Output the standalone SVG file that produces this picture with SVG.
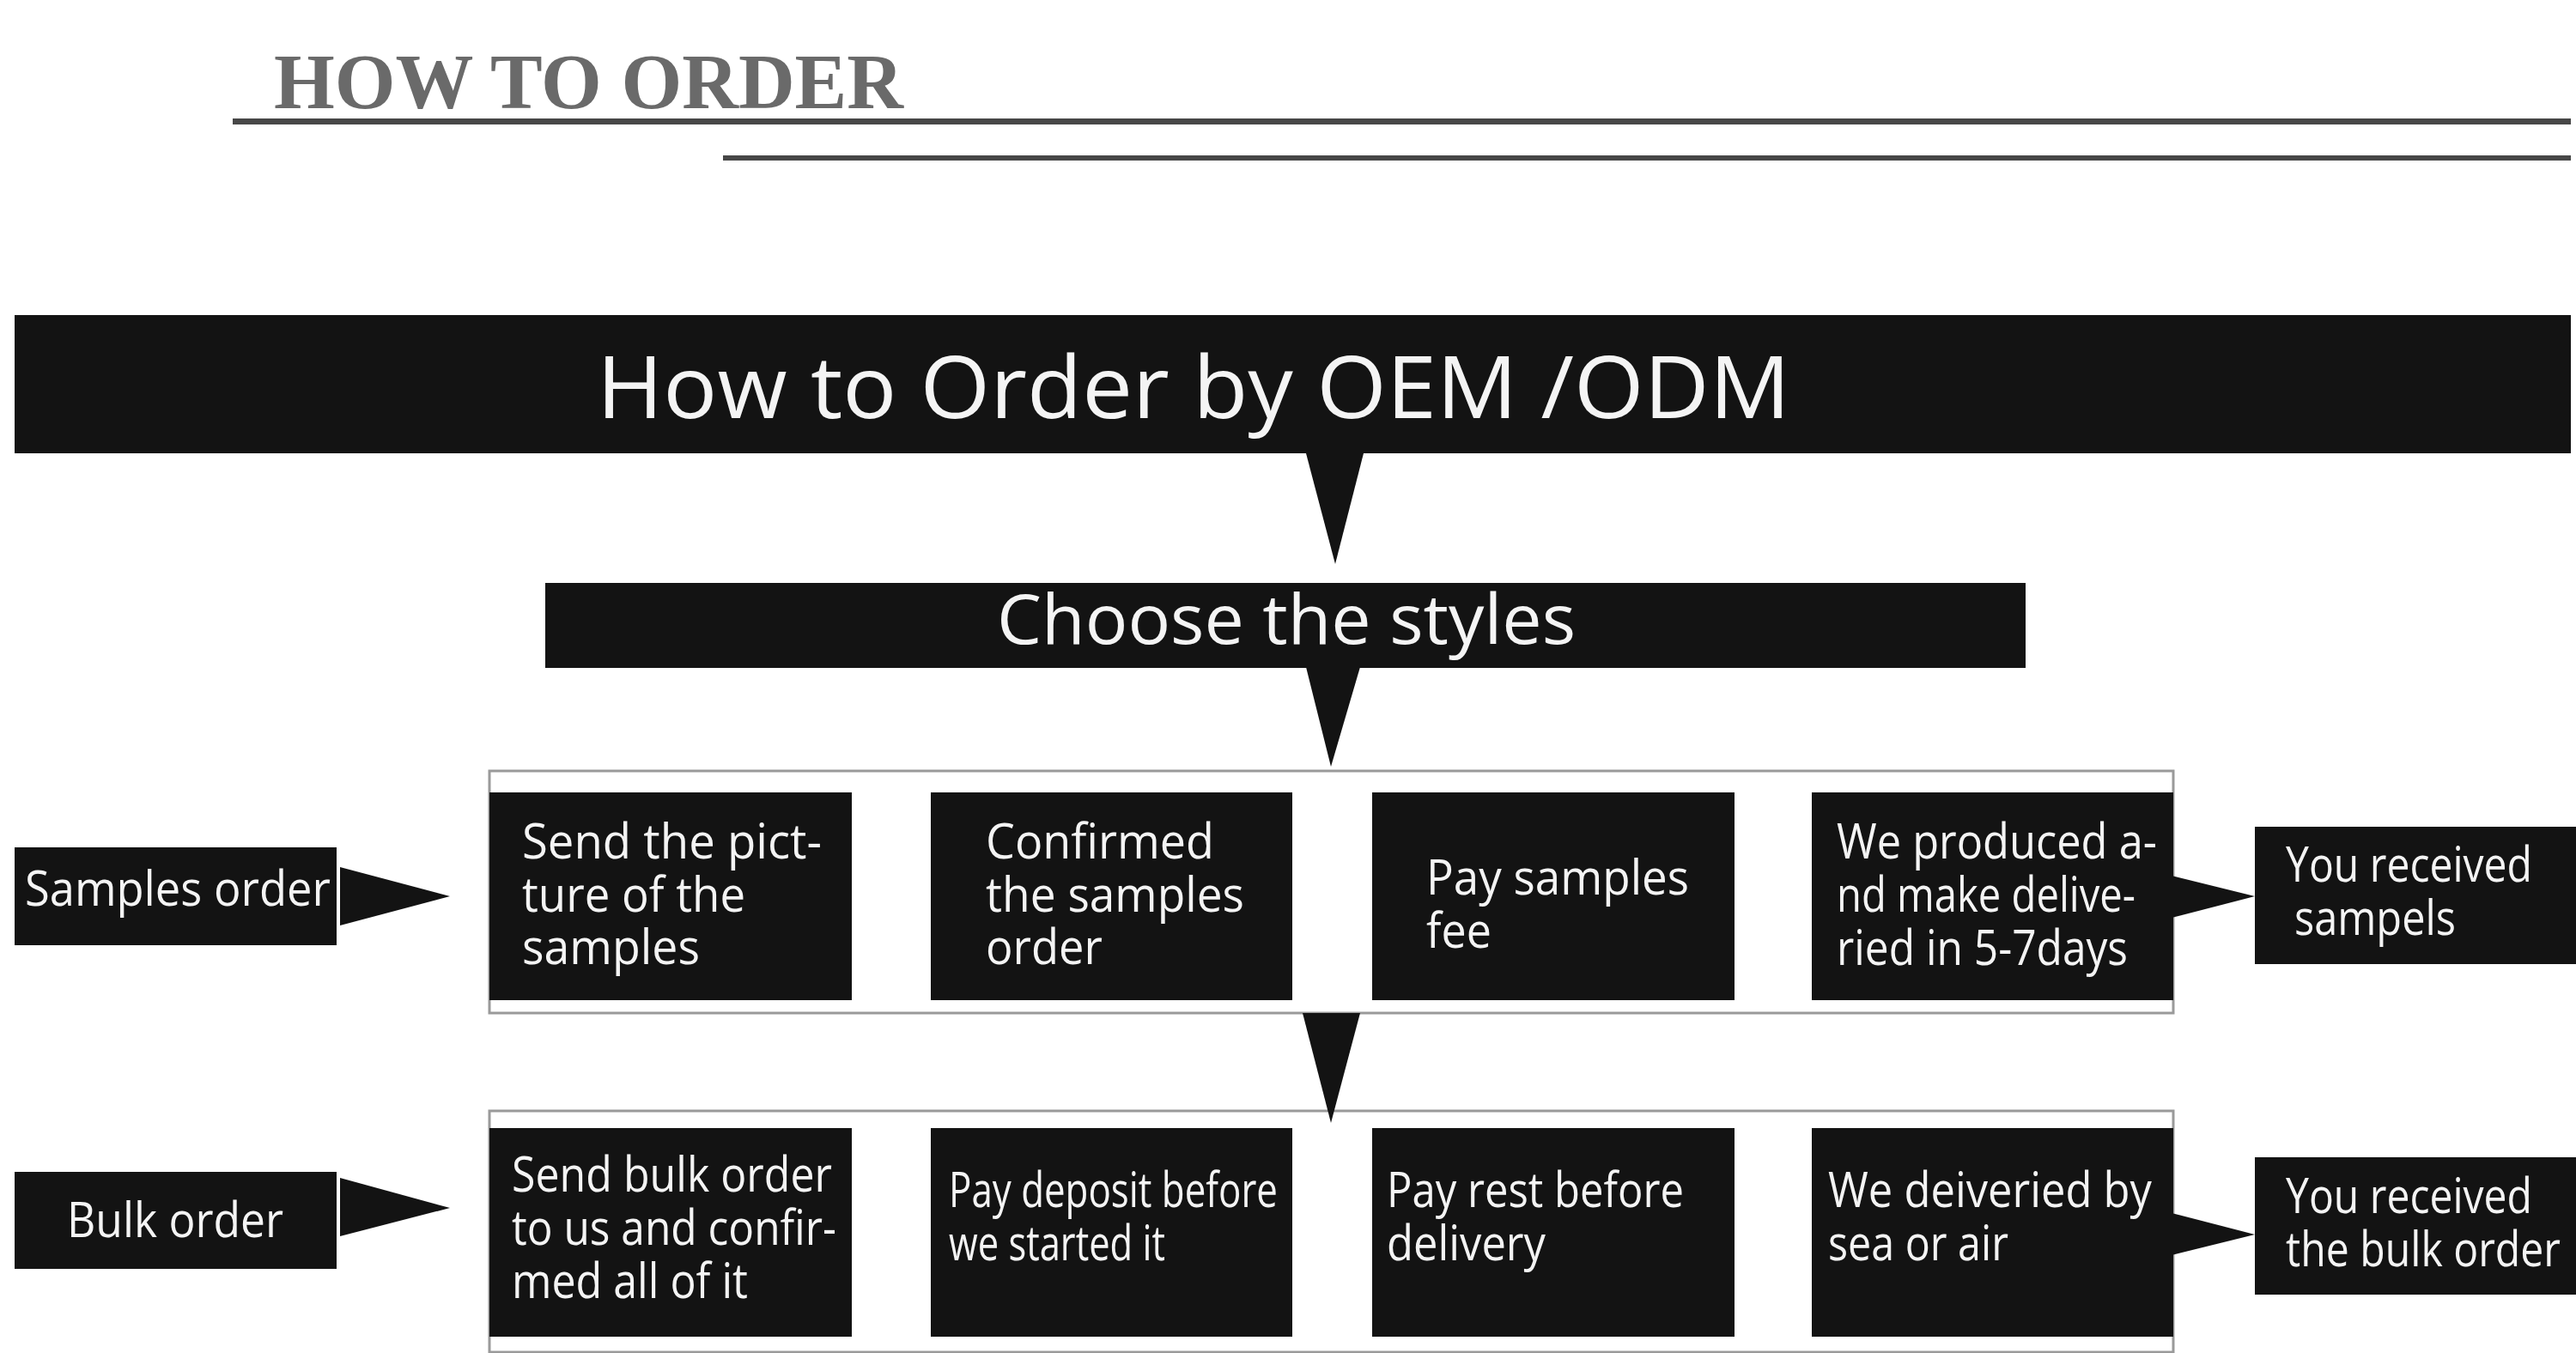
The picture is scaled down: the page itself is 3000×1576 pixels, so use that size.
<svg xmlns="http://www.w3.org/2000/svg" width="3000" height="1576" viewBox="0 0 3000 1576">
<style>
.box{fill:#131313}
.panel{fill:none;stroke:#9a9a9a;stroke-width:3}
.t{font-family:"Open Sans","Noto Sans","DejaVu Sans",sans-serif;fill:#f4f4f4;font-size:57px}
.big{font-size:101px}
.mid{font-size:81px}
.tri{fill:#131313}
.rule{fill:#474747}
.head{font-family:"Liberation Serif",serif;font-weight:bold;font-size:92px;fill:#6a6a6a}
</style>
<rect width="3000" height="1576" fill="#ffffff"/>
<g id="header">
<text class="head" x="319" y="126" textLength="733" lengthAdjust="spacingAndGlyphs">HOW TO ORDER</text>
<rect class="rule" x="271" y="138" width="2723" height="7"/>
<rect class="rule" x="842" y="181" width="2152" height="6"/>
</g>
<g id="panels">
<rect class="panel" x="570" y="898" width="1961" height="282"/>
<rect class="panel" x="570" y="1294" width="1961" height="281"/>
</g>
<g id="connectors">
<polygon class="tri" points="1521,528 1588,528 1555,657"/>
<polygon class="tri" points="1521,777 1584,777 1550,893"/>
<polygon class="tri" points="1517,1180 1584,1180 1550,1308"/>
<polygon class="tri" points="396,1010 396,1078 524,1044"/>
<polygon class="tri" points="396,1372 396,1440 524,1407"/>
<polygon class="tri" points="2529,1020 2529,1069 2626,1044"/>
<polygon class="tri" points="2529,1413 2529,1462 2626,1438"/>
</g>
<g id="title">
<rect class="box" x="17" y="367" width="2977" height="161"/>
<text class="t big" x="695" y="487" textLength="1390" lengthAdjust="spacingAndGlyphs">How to Order by OEM /ODM</text>
</g>
<g id="choose">
<rect class="box" x="635" y="679" width="1724" height="99"/>
<text class="t mid" x="1161" y="750" textLength="674" lengthAdjust="spacingAndGlyphs">Choose the styles</text>
</g>
<g id="samples-order">
<rect class="box" x="17" y="987" width="375" height="114"/>
<text class="t" x="29" y="1055" textLength="356" lengthAdjust="spacingAndGlyphs">Samples order</text>
</g>
<g id="s1">
<rect class="box" x="570" y="923" width="422" height="242"/>
<text class="t"><tspan x="608" y="1000" textLength="349" lengthAdjust="spacingAndGlyphs">Send the pict-</tspan><tspan x="608" y="1062" textLength="260" lengthAdjust="spacingAndGlyphs">ture of the</tspan><tspan x="608" y="1123" textLength="207" lengthAdjust="spacingAndGlyphs">samples</tspan></text>
</g>
<g id="s2">
<rect class="box" x="1084" y="923" width="421" height="242"/>
<text class="t"><tspan x="1148" y="1000" textLength="266" lengthAdjust="spacingAndGlyphs">Confirmed</tspan><tspan x="1148" y="1062" textLength="301" lengthAdjust="spacingAndGlyphs">the samples</tspan><tspan x="1148" y="1123" textLength="136" lengthAdjust="spacingAndGlyphs">order</tspan></text>
</g>
<g id="s3">
<rect class="box" x="1598" y="923" width="422" height="242"/>
<text class="t"><tspan x="1661" y="1042" textLength="306" lengthAdjust="spacingAndGlyphs">Pay samples</tspan><tspan x="1661" y="1104" textLength="76" lengthAdjust="spacingAndGlyphs">fee</tspan></text>
</g>
<g id="s4">
<rect class="box" x="2110" y="923" width="421" height="242"/>
<text class="t"><tspan x="2139" y="1000" textLength="373" lengthAdjust="spacingAndGlyphs">We produced a-</tspan><tspan x="2139" y="1062" textLength="348" lengthAdjust="spacingAndGlyphs">nd make delive-</tspan><tspan x="2139" y="1124" textLength="339" lengthAdjust="spacingAndGlyphs">ried in 5-7days</tspan></text>
</g>
<g id="s5">
<rect class="box" x="2626" y="963" width="374" height="160"/>
<text class="t"><tspan x="2662" y="1027" textLength="287" lengthAdjust="spacingAndGlyphs">You received</tspan><tspan x="2672" y="1089" textLength="188" lengthAdjust="spacingAndGlyphs">sampels</tspan></text>
</g>
<g id="bulk-order">
<rect class="box" x="17" y="1365" width="375" height="113"/>
<text class="t" x="78" y="1441" textLength="252" lengthAdjust="spacingAndGlyphs">Bulk order</text>
</g>
<g id="b1">
<rect class="box" x="570" y="1314" width="422" height="243"/>
<text class="t"><tspan x="596" y="1388" textLength="373" lengthAdjust="spacingAndGlyphs">Send bulk order</tspan><tspan x="596" y="1450" textLength="378" lengthAdjust="spacingAndGlyphs">to us and confir-</tspan><tspan x="596" y="1512" textLength="275" lengthAdjust="spacingAndGlyphs">med all of it</tspan></text>
</g>
<g id="b2">
<rect class="box" x="1084" y="1314" width="421" height="243"/>
<text class="t"><tspan x="1105" y="1406" textLength="383" lengthAdjust="spacingAndGlyphs">Pay deposit before</tspan><tspan x="1105" y="1468" textLength="252" lengthAdjust="spacingAndGlyphs">we started it</tspan></text>
</g>
<g id="b3">
<rect class="box" x="1598" y="1314" width="422" height="243"/>
<text class="t"><tspan x="1615" y="1406" textLength="346" lengthAdjust="spacingAndGlyphs">Pay rest before</tspan><tspan x="1615" y="1468" textLength="185" lengthAdjust="spacingAndGlyphs">delivery</tspan></text>
</g>
<g id="b4">
<rect class="box" x="2110" y="1314" width="421" height="243"/>
<text class="t"><tspan x="2129" y="1406" textLength="377" lengthAdjust="spacingAndGlyphs">We deiveried by</tspan><tspan x="2129" y="1468" textLength="210" lengthAdjust="spacingAndGlyphs">sea or air</tspan></text>
</g>
<g id="b5">
<rect class="box" x="2626" y="1348" width="374" height="160"/>
<text class="t"><tspan x="2662" y="1413" textLength="287" lengthAdjust="spacingAndGlyphs">You received</tspan><tspan x="2662" y="1475" textLength="320" lengthAdjust="spacingAndGlyphs">the bulk order</tspan></text>
</g>
</svg>
